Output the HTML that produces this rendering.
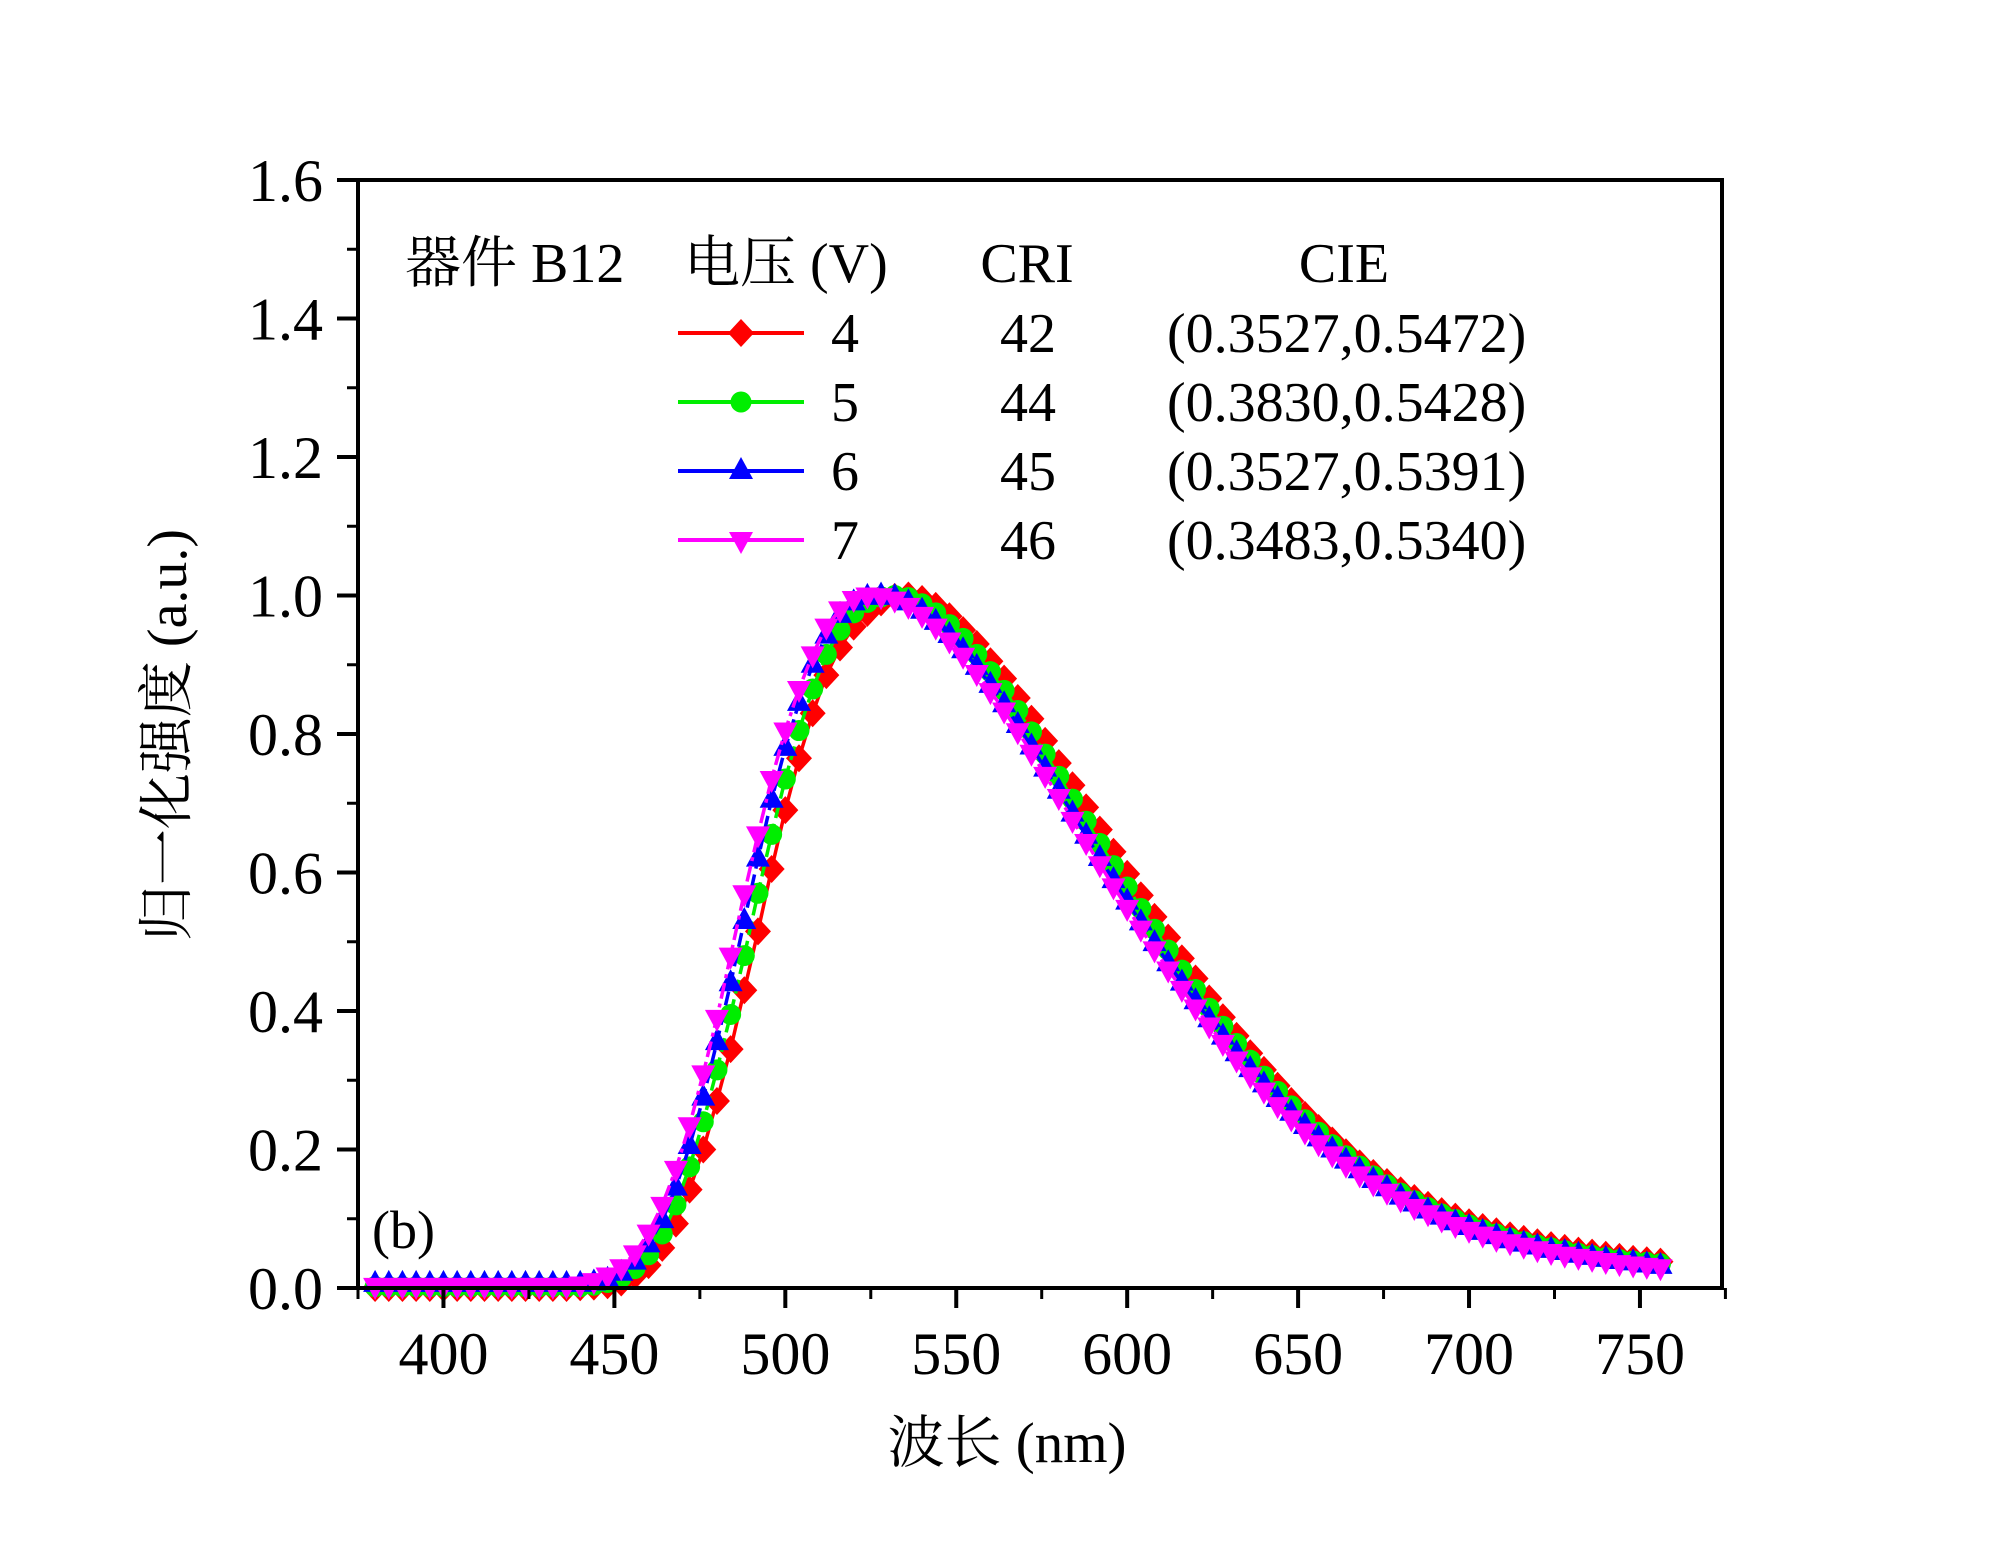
<!DOCTYPE html>
<html><head><meta charset="utf-8"><style>
html,body{margin:0;padding:0;background:#fff}
svg{display:block}
text{font-family:"Liberation Serif","Noto Serif CJK SC","Noto Sans CJK SC",serif;fill:#000}
</style></head><body>
<svg id="chart" width="2000" height="1545" viewBox="0 0 2000 1545" xmlns="http://www.w3.org/2000/svg">
<rect width="2000" height="1545" fill="#fff"/>
<g id="plot"></g>
<g id="axes"></g>
<g id="legend"></g>
<text x="372" y="1248" font-size="54">(b)</text>
<text x="1007" y="1462" font-size="57" text-anchor="middle">波长 (nm)</text>
<text transform="translate(186,735) rotate(-90)" font-size="56" text-anchor="middle">归一化强度 (a.u.)</text>
</svg>
<script>
const xTicks=[400,450,500,550,600,650,700,750];
const yTicks=[0,0.2,0.4,0.6,0.8,1.0,1.2,1.4,1.6];
const yTickLabels=["0.0","0.2","0.4","0.6","0.8","1.0","1.2","1.4","1.6"];
const startNm=380, stepNm=4;
const seriesNames=["4","5","6","7"];
const criValues=["42","44","45","46"];
const cieValues=["(0.3527,0.5472)","(0.3830,0.5428)","(0.3527,0.5391)","(0.3483,0.5340)"];
const red=[0,0,0,0,0,0,0,0,0,0,0,0,0,0,0,0.001,0.002,0.004,0.008,0.018,0.033,0.058,0.093,0.142,
0.2,0.27,0.345,0.43,0.515,0.605,0.69,0.765,0.83,0.885,0.925,0.955,0.975,0.99,0.998,1.0,0.995,0.985,0.97,0.95,0.93,0.905,0.88,0.852,0.822,0.79,0.758,0.726,0.694,0.662,0.63,0.598,0.567,0.536,0.506,0.476,0.447,0.418,0.391,0.364,0.339,0.315,0.292,0.27,0.25,0.231,0.213,0.196,0.18,0.166,0.153,0.141,0.13,0.12,0.111,0.103,0.095,0.088,0.082,0.076,0.071,0.066,0.062,0.058,0.054,0.051,0.048,0.045,0.042,0.04,0.038];
const green=[0.002,0.002,0.002,0.002,0.002,0.002,0.002,0.002,0.002,0.002,0.002,0.002,0.002,0.002,0.002,0.002,0.004,0.008,0.015,0.028,0.048,0.078,0.12,0.175,0.24,0.315,0.395,0.48,0.57,0.655,0.735,0.805,0.865,0.915,0.95,0.975,0.99,0.998,1.0,0.997,0.988,0.975,0.958,0.938,0.915,0.89,0.863,0.834,0.803,0.771,0.739,0.706,0.674,0.642,0.61,0.579,0.548,0.518,0.488,0.459,0.431,0.404,0.378,0.353,0.329,0.306,0.284,0.263,0.243,0.225,0.207,0.191,0.176,0.162,0.149,0.137,0.126,0.116,0.107,0.099,0.091,0.084,0.078,0.072,0.067,0.062,0.058,0.054,0.05,0.047,0.044,0.041,0.039,0.037,0.035];
const blue=[0.006,0.006,0.006,0.006,0.006,0.006,0.006,0.006,0.006,0.006,0.006,0.006,0.006,0.006,0.006,0.006,0.008,0.012,0.022,0.038,0.063,0.098,0.145,0.205,0.275,0.355,0.44,0.53,0.62,0.705,0.78,0.845,0.9,0.942,0.972,0.99,0.998,1.0,0.998,0.99,0.978,0.962,0.943,0.921,0.897,0.871,0.843,0.813,0.782,0.75,0.718,0.685,0.653,0.621,0.589,0.558,0.528,0.498,0.469,0.441,0.414,0.388,0.363,0.339,0.316,0.294,0.273,0.253,0.234,0.216,0.2,0.184,0.17,0.156,0.144,0.132,0.122,0.112,0.103,0.095,0.088,0.081,0.075,0.069,0.064,0.06,0.055,0.052,0.048,0.045,0.042,0.039,0.037,0.034,0.032];
const magenta=[0.003,0.003,0.003,0.003,0.003,0.003,0.003,0.003,0.003,0.003,0.003,0.003,0.003,0.003,0.003,0.005,0.01,0.018,0.03,0.05,0.08,0.12,0.172,0.235,0.31,0.39,0.48,0.57,0.655,0.735,0.805,0.865,0.915,0.955,0.98,0.995,1.0,0.999,0.994,0.985,0.972,0.955,0.935,0.913,0.888,0.862,0.834,0.804,0.773,0.741,0.709,0.676,0.644,0.612,0.58,0.549,0.519,0.489,0.46,0.432,0.405,0.379,0.354,0.33,0.307,0.285,0.264,0.245,0.226,0.209,0.193,0.178,0.164,0.151,0.139,0.128,0.117,0.108,0.099,0.091,0.084,0.077,0.071,0.066,0.061,0.056,0.052,0.048,0.045,0.042,0.039,0.036,0.034,0.032,0.03];

const NS="http://www.w3.org/2000/svg";
const L=358,R=1722,T=180,B=1288,X0=375,X1=774,Y0=0,Y1=1.6;
const xs=v=>L+(v-X0)/(X1-X0)*(R-L);
const ys=v=>B-(v-Y0)/(Y1-Y0)*(B-T);
function mk(tag,attrs,parent){const e=document.createElementNS(NS,tag);for(const k in attrs)e.setAttribute(k,attrs[k]);parent.appendChild(e);return e;}
const plot=document.getElementById('plot'),axes=document.getElementById('axes'),leg=document.getElementById('legend');

function marker(shape,cx,cy,color,parent){
  let e;
  if(shape==='diamond') e=mk('polygon',{points:`${cx},${cy-14} ${cx+13},${cy} ${cx},${cy+14} ${cx-13},${cy}`,fill:color},parent);
  else if(shape==='circle') e=mk('circle',{cx:cx,cy:cy,r:10.5,fill:color},parent);
  else if(shape==='up') e=mk('polygon',{points:`${cx},${cy-14} ${cx+12},${cy+8} ${cx-12},${cy+8}`,fill:color},parent);
  else e=mk('polygon',{points:`${cx-12},${cy-8} ${cx+12},${cy-8} ${cx},${cy+14}`,fill:color},parent);
  return e;
}
const series=[
 {vals:red,color:'#ff0000',shape:'diamond',dash:'none',name:'series-4v'},
 {vals:green,color:'#00ee00',shape:'circle',dash:'14 6',name:'series-5v'},
 {vals:blue,color:'#0000ff',shape:'up',dash:'14 6',name:'series-6v'},
 {vals:magenta,color:'#ff00ff',shape:'down',dash:'16 5 4 5',name:'series-7v'}
];
series.forEach(s=>{
  const g=mk('g',{},plot);
  
  
  const pts=s.vals.map((v,i)=>`${xs(startNm+i*stepNm).toFixed(1)},${ys(v).toFixed(1)}`).join(' ');
  const ln=mk('polyline',{points:pts,fill:'none',stroke:s.color,'stroke-width':3.5,'stroke-dasharray':s.dash},g);
  
  
  s.vals.forEach((v,i)=>{
    const m=marker(s.shape,xs(startNm+i*stepNm),ys(v),s.color,g);
    
    
  });
});

const fr=mk('rect',{x:L,y:T,width:R-L,height:B-T,fill:'none',stroke:'#000','stroke-width':4},axes);


xTicks.forEach(v=>{
  const t=mk('line',{x1:xs(v),x2:xs(v),y1:B,y2:B+20,stroke:'#000','stroke-width':4},axes);
  
  
  const m=mk('line',{x1:xs(v-25),x2:xs(v-25),y1:B,y2:B+11,stroke:'#000','stroke-width':3},axes);
  
  
  const lb=mk('text',{x:xs(v),y:B+86,'font-size':60,'text-anchor':'middle'},axes);
  lb.textContent=v;
  
  
});
const mm=mk('line',{x1:xs(775),x2:xs(775),y1:B,y2:B+11,stroke:'#000','stroke-width':3},axes);


yTicks.forEach((v,i)=>{
  const t=mk('line',{x1:L-21,x2:L,y1:ys(v),y2:ys(v),stroke:'#000','stroke-width':4},axes);
  
  
  if(i<yTicks.length-1){
    const m=mk('line',{x1:L-11,x2:L,y1:ys(v+0.1),y2:ys(v+0.1),stroke:'#000','stroke-width':3},axes);
    
    
  }
  const lb=mk('text',{x:L-35,y:ys(v)+21,'font-size':60,'text-anchor':'end'},axes);
  lb.textContent=yTickLabels[i];
  
  
});

function txt(x,y,s,anchor,name){const e=mk('text',{x:x,y:y,'font-size':56,'text-anchor':anchor},leg);e.textContent=s;
  
  return e;}
txt(405,282,'器件 B12','start','legend-device-header');
txt(684,282,'电压 (V)','start','legend-voltage-header');
txt(1027,282,'CRI','middle','legend-cri-header');
txt(1344,282,'CIE','middle','legend-cie-header');
const rowY=[333,402,471,540];
series.forEach((s,i)=>{
  const y=rowY[i];
  const g=mk('g',{},leg);
  
  
  mk('line',{x1:678,x2:804,y1:y,y2:y,stroke:s.color,'stroke-width':4},g);
  marker(s.shape,741,y,s.color,g);
  txt(845,y+19,seriesNames[i],'middle','legend-voltage-value');
  txt(1028,y+19,criValues[i],'middle','legend-cri-value');
  txt(1167,y+19,cieValues[i],'start','legend-cie-value');
});
</script>
</body></html>
